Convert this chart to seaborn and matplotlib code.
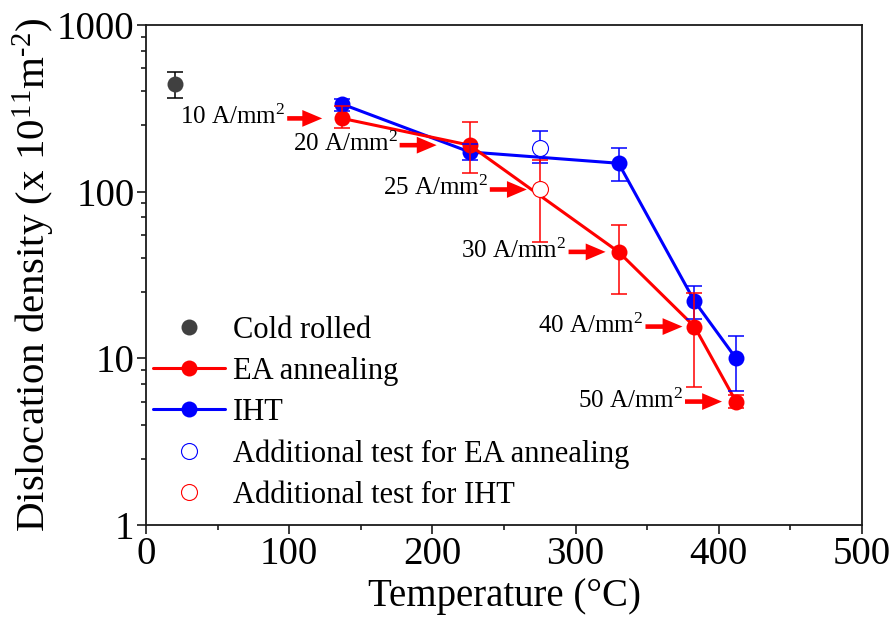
import matplotlib
matplotlib.use("Agg")
import matplotlib.pyplot as plt
import numpy as np
import pandas as pd
import seaborn as sns
from matplotlib.lines import Line2D
from matplotlib.ticker import FixedLocator, MultipleLocator, FuncFormatter, NullFormatter

# ---- data -------------------------------------------------------------
cold_temp = [20]
cold_val = [440]
cold_lo = [364]
cold_hi = [520]

temps = [137, 226, 330, 383, 412]
ea_val = [275, 190, 43.5, 15.5, 5.5]
ea_lo = [242, 130, 24.2, 6.7, 5.0]
ea_hi = [325, 262, 63, 24.5, 6.0]

iht_val = [335, 173, 148, 22, 10.0]
iht_lo = [303, 155, 116, 17.1, 6.4]
iht_hi = [362, 193, 183, 27, 13.6]

add_temp = [275]
add_ea_val = [183]
add_ea_lo = [148]
add_ea_hi = [232]
add_iht_val = [103]
add_iht_lo = [50]
add_iht_hi = [155]

current_labels = ["10", "20", "25", "30", "40", "50"]
current_temps = [137, 226, 275, 330, 383, 412]
current_vals = [275, 190, 103, 43.5, 15.5, 5.5]
# arrow tail / tip distance (pixels) left of the marked point
arrow_tail = [-55, -70, -50, -50, -49, -51]
arrow_tip = [20, 33, 13, 13, 12, 14]

RED = "#ff0000"
BLUE = "#0000ff"
GRAY = "#404040"

# ---- style ------------------------------------------------------------
sns.set_style("ticks")
plt.rcParams["font.family"] = ["Liberation Serif", "DejaVu Serif"]
plt.rcParams["mathtext.fontset"] = "custom"
plt.rcParams["mathtext.rm"] = "Liberation Serif"
plt.rcParams["mathtext.it"] = "Liberation Serif:italic"
plt.rcParams["text.color"] = "black"
plt.rcParams["axes.labelcolor"] = "black"
plt.rcParams["axes.edgecolor"] = "#1a1a1a"
plt.rcParams["axes.linewidth"] = 1.3

fig = plt.figure(figsize=(8.93, 6.24), dpi=100)
ax = fig.add_axes([0.1635, 0.1587, 0.8018, 0.8013])

df = pd.DataFrame({
    "temp": temps * 2,
    "value": iht_val + ea_val,
    "series": ["IHT"] * len(temps) + ["EA annealing"] * len(temps),
})

def asym(v, lo, hi):
    v = np.asarray(v, float)
    return np.vstack([v - np.asarray(lo, float), np.asarray(hi, float) - v])

ms = 11.5
err_kw = dict(fmt="none", elinewidth=1.1, capsize=6, capthick=1.1, zorder=2.5)

# connected series
sns.lineplot(data=df, x="temp", y="value", hue="series",
             hue_order=["IHT", "EA annealing"],
             palette={"IHT": BLUE, "EA annealing": RED},
             estimator=None, sort=False, marker="o", markersize=ms,
             markeredgewidth=0, linewidth=2.2, legend=False, ax=ax, zorder=2)
ax.errorbar(temps, iht_val, yerr=asym(iht_val, iht_lo, iht_hi), ecolor=BLUE, **err_kw)
ax.errorbar(temps, ea_val, yerr=asym(ea_val, ea_lo, ea_hi), ecolor=RED, **err_kw)

# cold rolled reference
sns.scatterplot(x=cold_temp, y=cold_val, color=GRAY, s=ms ** 2, linewidth=0,
                ax=ax, zorder=3, legend=False)
ax.errorbar(cold_temp, cold_val, yerr=asym(cold_val, cold_lo, cold_hi),
            ecolor="black", **err_kw)

# additional tests (open symbols)
ax.errorbar(add_temp, add_ea_val, yerr=asym(add_ea_val, add_ea_lo, add_ea_hi),
            ecolor=BLUE, **err_kw)
ax.errorbar(add_temp, add_iht_val, yerr=asym(add_iht_val, add_iht_lo, add_iht_hi),
            ecolor=RED, **err_kw)
sns.scatterplot(x=add_temp, y=add_ea_val, facecolor="white", edgecolor=BLUE,
                linewidth=0.8, s=ms ** 2, ax=ax, zorder=3, legend=False)
sns.scatterplot(x=add_temp, y=add_iht_val, facecolor="white", edgecolor=RED,
                linewidth=0.8, s=ms ** 2, ax=ax, zorder=3, legend=False)

# current density annotations
for lab, t, v, tail, tip in zip(current_labels, current_temps, current_vals,
                                arrow_tail, arrow_tip):
    ax.annotate("", xy=(t, v), xytext=(tail, 0), textcoords="offset pixels",
                arrowprops=dict(arrowstyle="simple,head_length=1.3,head_width=1.1,tail_width=0.3",
                                mutation_scale=11, color=RED, lw=0,
                                shrinkA=0, shrinkB=tip * 0.72),
                zorder=5)
    ax.annotate(f"{lab} A/mm$^{{\\mathregular{{2}}}}$", xy=(t, v),
                xytext=(tail - 2, -6), textcoords="offset pixels",
                ha="right", va="baseline", fontsize=18, color="black", zorder=5)

# axes
ax.set_xlim(0, 500)
ax.set_yscale("log")
ax.set_ylim(1, 1000)
ax.xaxis.set_major_locator(MultipleLocator(100))
ax.xaxis.set_minor_locator(MultipleLocator(50))
ax.yaxis.set_major_locator(FixedLocator([1, 10, 100, 1000]))
ax.yaxis.set_minor_locator(FixedLocator(
    [m * 10 ** k for k in range(3) for m in (2.5, 4, 5.5, 7, 8.5)]))
ax.yaxis.set_major_formatter(FuncFormatter(lambda v, p: f"{v:g}"))
ax.yaxis.set_minor_formatter(NullFormatter())

ax.tick_params(which="both", direction="out", top=False, right=False,
               color="#1a1a1a", width=1.2, labelsize=28, labelcolor="black")
ax.tick_params(which="major", length=6.2, pad=2)
ax.tick_params(which="minor", length=3.6)
for s in ax.spines.values():
    s.set_visible(True)
    s.set_linewidth(1.3)

ax.set_xlabel("Temperature (\u00b0C)", fontsize=28, labelpad=3)
ax.set_ylabel("Dislocation density (x 10$^{\\mathregular{11}}$m$^{\\text{-2}}$)",
              fontsize=29.5, labelpad=0)

handles = [
    Line2D([], [], ls="none", marker="o", color=GRAY, ms=ms, mew=0),
    Line2D([], [], color=RED, lw=2.2, marker="o", ms=ms, mew=0),
    Line2D([], [], color=BLUE, lw=2.2, marker="o", ms=ms, mew=0),
    Line2D([], [], ls="none", marker="o", mfc="white", mec=BLUE, ms=ms, mew=0.8),
    Line2D([], [], ls="none", marker="o", mfc="white", mec=RED, ms=ms, mew=0.8),
]
labels = ["Cold rolled", "EA annealing", "IHT",
          "Additional test for EA annealing", "Additional test for IHT"]
ax.legend(handles, labels, loc="lower left", bbox_to_anchor=(0.01, 0.03),
          frameon=False, fontsize=22, handlelength=2.35, handletextpad=0.26,
          labelspacing=0.4, borderpad=0, borderaxespad=0)

fig.savefig("out.png", dpi=100)
